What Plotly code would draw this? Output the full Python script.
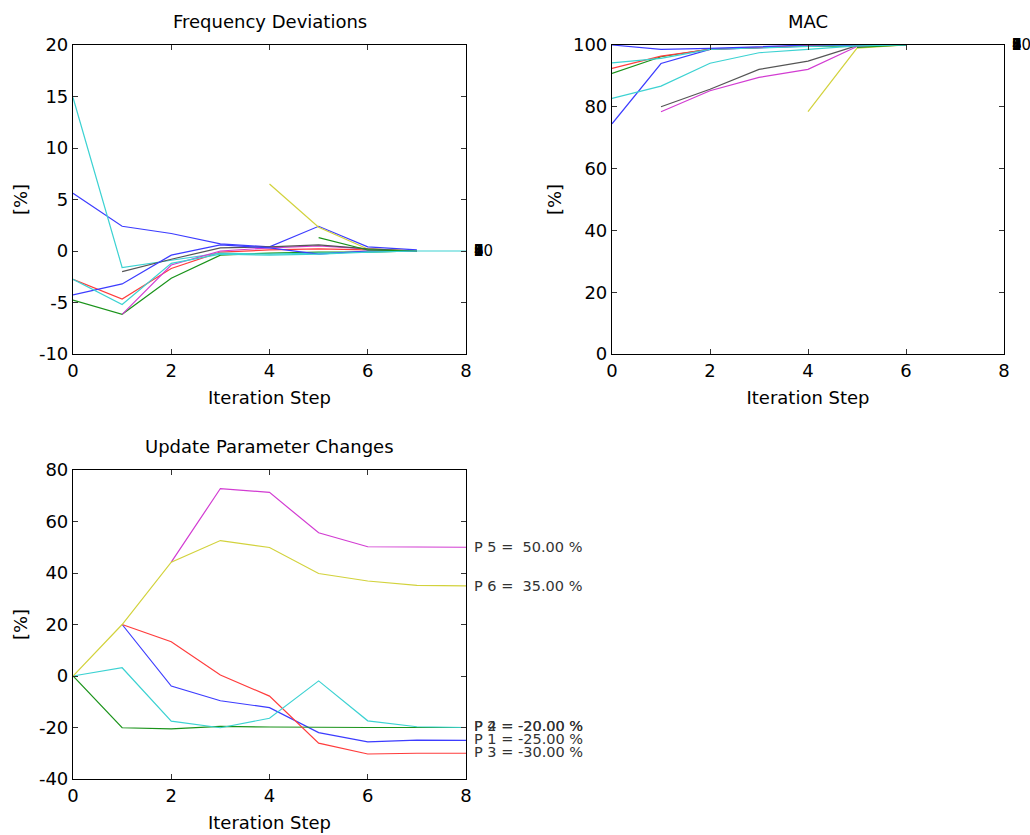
import plotly.graph_objects as go

steps = [0, 1, 2, 3, 4, 5, 6, 7, 8]

# Frequency deviations [%] per mode (None = not yet paired)
freq_blue_a = [5.6, 2.4, 1.7, 0.7, 0.4, 2.4, 0.4, 0.1, None]
freq_green_a = [-4.76, -6.15, -2.65, -0.4, -0.2, -0.1, -0.1, 0.0, None]
freq_red = [-2.75, -4.66, -1.7, -0.1, 0.1, 0.2, 0.1, 0.0, None]
freq_cyan_a = [14.9, -1.6, -0.9, -0.2, -0.3, -0.2, -0.1, 0.0, 0.0]
freq_magenta = [None, -6.15, -1.36, 0.0, 0.3, 0.5, 0.2, 0.0, None]
freq_yellow = [None, None, None, None, 6.5, 2.3, 0.2, 0.0, None]
freq_gray = [None, -2.0, -0.8, 0.3, 0.4, 0.6, 0.2, 0.0, None]
freq_blue_b = [-4.27, -3.2, -0.4, 0.6, 0.3, -0.3, 0.0, 0.0, None]
freq_green_b = [None, None, None, None, None, 1.3, 0.1, 0.0, None]
freq_cyan_b = [-2.75, -5.2, -1.2, -0.3, -0.4, -0.3, -0.1, 0.0, None]

# MAC [%] per mode
mac_blue_a = [74.5, 94.0, 98.6, 99.2, 99.6, 100, 100, None, None]
mac_green_a = [90.8, 96.2, 98.7, 99.3, 99.7, 99.6, 100, None, None]
mac_red = [92.4, 96.4, 98.6, 99.3, 99.8, 100, 100, None, None]
mac_cyan_a = [94.2, 95.7, 98.6, 99.0, 99.5, 100, 100, None, None]
mac_magenta = [None, 78.4, 85.2, 89.5, 92.1, 99.5, 100, None, None]
mac_yellow = [None, None, None, None, 78.4, 99.0, 100, None, None]
mac_gray = [None, 80.0, 85.7, 92.1, 94.8, 99.8, 100, None, None]
mac_blue_b = [100, 98.6, 98.9, 99.5, 100, 100, 100, None, None]
mac_green_b = [None, None, None, None, None, 99.2, 100, None, None]
mac_cyan_b = [82.7, 86.7, 94.1, 97.5, 98.6, 99.7, 100, None, None]

mode_labels = ["1", "2", "3", "4", "5", "6", "7", "8", "9", "10"]

# Update parameter changes [%]
p1 = [None, 20, -3.9, -9.6, -12.3, -22.0, -25.6, -24.9, -25.0]
p2 = [0, -20.1, -20.5, -19.6, -19.8, -20.0, -20.0, -20.0, -20.0]
p3 = [None, 20, 13.3, 0.4, -7.8, -26.1, -30.3, -30.0, -30.0]
p4 = [0, 3.2, -17.5, -20.1, -16.4, -1.9, -17.4, -19.7, -20.0]
p5 = [None, None, 44.2, 72.8, 71.3, 55.6, 50.2, 50.0, 50.0]
p6 = [0, 20, 44.2, 52.6, 49.9, 39.8, 36.9, 35.2, 35.0]
param_names = ["P 1", "P 2", "P 3", "P 4", "P 5", "P 6"]
param_final = [-25.0, -20.0, -30.0, -20.0, 50.0, 35.0]
param_label_y = [-24.3, -19.6, -29.6, -19.6, 50.0, 35.0]

# Axis tick values
x_ticks = [0, 2, 4, 6, 8]
freq_ticks = [-10, -5, 0, 5, 10, 15, 20]
mac_ticks = [0, 20, 40, 60, 80, 100]
param_ticks = [-40, -20, 0, 20, 40, 60, 80]

C_BLUE = "#3c3cff"
C_GREEN = "#1a931a"
C_RED = "#ff3c3c"
C_CYAN = "#3cd2d2"
C_MAG = "#d23cd2"
C_YEL = "#d2d23c"
C_GRAY = "#555555"

freq_series = [
    (freq_blue_a, C_BLUE), (freq_green_a, C_GREEN), (freq_red, C_RED),
    (freq_cyan_a, C_CYAN), (freq_magenta, C_MAG), (freq_yellow, C_YEL),
    (freq_gray, C_GRAY), (freq_blue_b, C_BLUE), (freq_green_b, C_GREEN),
    (freq_cyan_b, C_CYAN),
]
mac_series = [
    (mac_blue_a, C_BLUE), (mac_green_a, C_GREEN), (mac_red, C_RED),
    (mac_cyan_a, C_CYAN), (mac_magenta, C_MAG), (mac_yellow, C_YEL),
    (mac_gray, C_GRAY), (mac_blue_b, C_BLUE), (mac_green_b, C_GREEN),
    (mac_cyan_b, C_CYAN),
]
param_series = [(p1, C_BLUE), (p2, C_GREEN), (p3, C_RED), (p4, C_CYAN), (p5, C_MAG), (p6, C_YEL)]

FONT = "DejaVu Sans, Verdana, sans-serif"

fig = go.Figure()

def add_lines(series, xa, ya):
    for vals, col in series:
        xs = [s for s, v in zip(steps, vals) if v is not None]
        ys = [v for v in vals if v is not None]
        fig.add_trace(go.Scatter(x=xs, y=ys, mode="lines", xaxis=xa, yaxis=ya,
                                 line=dict(color=col, width=1.2), showlegend=False,
                                 hoverinfo="skip"))

add_lines(freq_series, "x", "y")
add_lines(mac_series, "x2", "y2")
add_lines(param_series, "x3", "y3")

W, H = 1030, 835
def px_x(a, b):
    return [a / W, b / W]
def px_y(top, bottom):
    return [1 - bottom / H, 1 - top / H]

axis_common = dict(showline=True, linecolor="black", linewidth=1.2, mirror="ticks",
                   ticks="inside", ticklen=5, tickcolor="#333333", showgrid=False,
                   zeroline=False, automargin=False,
                   tickfont=dict(family=FONT, size=18, color="black"))

def xax(domain, anchor):
    return dict(axis_common, domain=domain, anchor=anchor, range=[0, 8],
                tickvals=x_ticks, ticktext=[str(t) for t in x_ticks],
                title=dict(text="Iteration Step", font=dict(family=FONT, size=18, color="black"), standoff=11))

def yax(domain, anchor, rng, ticks):
    return dict(axis_common, domain=domain, anchor=anchor, range=rng,
                tickvals=ticks, ticktext=[str(t) for t in ticks],
                title=dict(text="[%]", font=dict(family=FONT, size=18, color="black"), standoff=6))

fig.update_layout(
    width=W, height=H,
    margin=dict(l=0, r=0, t=0, b=0, autoexpand=False),
    paper_bgcolor="white", plot_bgcolor="white",
    font=dict(family=FONT, color="black"),
    xaxis=xax(px_x(73, 466), "y"),
    yaxis=yax(px_y(45, 354), "x", [-10, 20], freq_ticks),
    xaxis2=xax(px_x(612, 1004), "y2"),
    yaxis2=yax(px_y(45, 354), "x2", [0, 100], mac_ticks),
    xaxis3=xax(px_x(73, 466), "y3"),
    yaxis3=yax(px_y(470, 779), "x3", [-40, 80], param_ticks),
)

annotations = []
for text, xc, yc in [("Frequency Deviations", 269.5, 21), ("MAC", 808, 21),
                     ("Update Parameter Changes", 269.5, 446)]:
    annotations.append(dict(text=text, x=xc / W, y=1 - yc / H, xref="paper", yref="paper",
                            xanchor="center", yanchor="middle", showarrow=False,
                            font=dict(family=FONT, size=18, color="black")))

for lab in mode_labels:
    annotations.append(dict(text=lab, x=8, y=0, xref="x", yref="y", xanchor="left",
                            yanchor="middle", xshift=6, showarrow=False,
                            font=dict(family=FONT, size=15, color="black")))
    annotations.append(dict(text=lab, x=8, y=100, xref="x2", yref="y2", xanchor="left",
                            yanchor="middle", xshift=6, showarrow=False,
                            font=dict(family=FONT, size=15, color="black")))

for name, val, ly in zip(param_names, param_final, param_label_y):
    annotations.append(dict(text=f"{name} = {val:6.2f} %".replace(" ", "&nbsp;"), x=8, y=ly,
                            xref="x3", yref="y3", xanchor="left", yanchor="middle",
                            xshift=6, showarrow=False,
                            font=dict(family=FONT, size=14.5, color="#333333")))

fig.update_layout(annotations=annotations)

fig.write_html("out.html", config={"responsive": False},
               post_script="document.body.style.margin='0';document.body.style.padding='0';")
